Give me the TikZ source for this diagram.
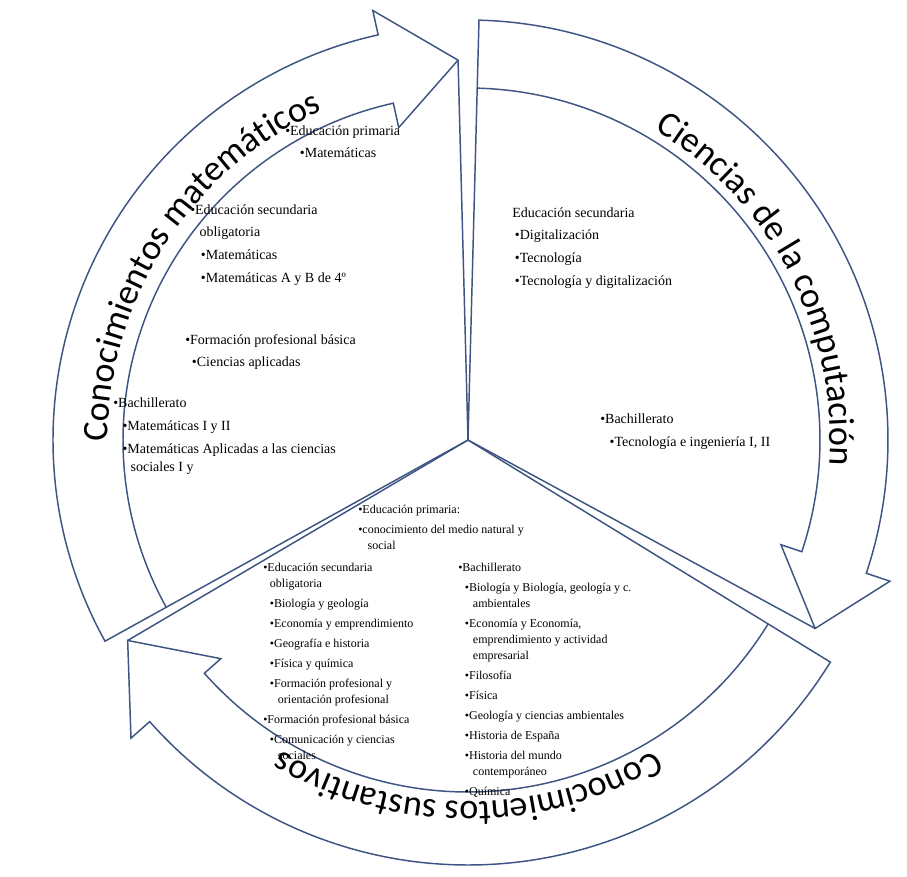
\documentclass[tikz,border=0pt]{standalone}
\usepackage{fontspec}
\setmainfont{Liberation Serif}
\newfontfamily\bandfont{Carlito}
\usetikzlibrary{positioning,decorations.text}
\definecolor{bandline}{RGB}{62,84,130}
\begin{document}
\begin{tikzpicture}[x=0.75pt,y=0.75pt,
  piece/.style={draw=bandline,fill=white,line width=1.1pt,line join=miter},
  block/.style={anchor=north west,inner sep=0pt,align=left,font=\fontsize{10.5}{17}\selectfont},
  smallblock/.style={anchor=north west,inner sep=0pt,align=left,font=\fontsize{9}{15}\selectfont},
  bandtext/.style={decorate,decoration={text along path,text align=center,
     text={|\bandfont\fontsize{27}{30}\selectfont|#1}}}]
\useasboundingbox (-468,-436) rectangle (439,440);
\coordinate (C) at (0,0);
% math piece
\draw[piece] (C) -- (209:345) -- (209:415) arc[start angle=209,end angle=102.5,radius=415]
  -- (102.5:440) -- (91.5:380) coordinate (tipm) -- (102.5:320) -- (102.5:345)
  arc[start angle=102.5,end angle=209,radius=345] -- cycle;
\draw[piece] (C) -- (tipm);
% computation piece
\draw[piece] (C) -- (88.5:372) -- (88.5:420) arc[start angle=88.5,end angle=-18.5,radius=420]
  -- (-18.5:445) -- (-28.5:395) coordinate (tipc) -- (-18.5:330) -- (-18.5:352)
  arc[start angle=-18.5,end angle=88.5,radius=352] -- cycle;
\draw[piece] (C) -- (tipc);
% substantive piece
\draw[piece] (C) -- (-31.5:372) -- (-31.5:425) arc[start angle=-31.5,end angle=-138.5,radius=425]
  -- (-138.5:450) -- (-149.5:395) coordinate (tips) -- (-138.5:330) -- (-138.5:352)
  arc[start angle=-138.5,end angle=-31.5,radius=352] -- cycle;
\draw[piece] (C) -- (tips);

% labels on the bands
\path[bandtext={Conocimientos matemáticos}] (197:360) arc[start angle=197,end angle=97,radius=360];
\path[bandtext={Ciencias de la computación}] (77.5:362) arc[start angle=77.5,end angle=-22.5,radius=362];
\path[bandtext={Conocimientos sustantivos}] (-40:362) arc[start angle=-40,end angle=-140,radius=362];

% mathematics
\node[block] (mprim) at (-183,315) {•Educación primaria\\\hspace*{11pt}•Matemáticas};
\node[block] (mseco) at (-278,236) {•Educación secundaria\\\hspace*{7pt}obligatoria\\
  \hspace*{8pt}•Matemáticas\\\hspace*{8pt}•Matemáticas A y B de 4º};
\node[block] (mfpb) at (-283,106) {•Formación profesional básica\\\hspace*{5pt}•Ciencias aplicadas};
\node[block] (mbach) at (-355,42) {•Bachillerato\\\hspace*{7pt}•Matemáticas I y II\\
  \hspace*{7pt}•Matemáticas Aplicadas a las ciencias\\[-3pt]\hspace*{13pt}sociales I y};
% computation
\node[block] (cseco) at (44,233) {Educación secundaria\\\hspace*{2pt}•Digitalización\\
  \hspace*{2pt}•Tecnología\\\hspace*{2pt}•Tecnología y digitalización};
\node[block] (cbach) at (132,26) {•Bachillerato\\\hspace*{7pt}•Tecnología e ingeniería I, II};
% substantive
\node[smallblock] (sprim) at (-110,-65) {•Educación primaria:\\•conocimiento del medio natural y\\[-3pt]
  \hspace*{7pt}social};
\node[smallblock] (sseco) at (-205,-123) {•Educación secundaria\\[-3pt]\hspace*{5pt}obligatoria\\
  \hspace*{5pt}•Biología y geología\\\hspace*{5pt}•Economía y emprendimiento\\
  \hspace*{5pt}•Geografía e historia\\\hspace*{5pt}•Física y química\\
  \hspace*{5pt}•Formación profesional y\\[-3pt]\hspace*{11pt}orientación profesional\\
  •Formación profesional básica\\\hspace*{5pt}•Comunicación y ciencias\\[-3pt]
  \hspace*{11pt}sociales};
\node[smallblock] (sbach) at (-10,-123) {•Bachillerato\\
  \hspace*{5pt}•Biología y Biología, geología y c.\\[-3pt]\hspace*{11pt}ambientales\\
  \hspace*{5pt}•Economía y Economía,\\[-3pt]\hspace*{11pt}emprendimiento y actividad\\[-3pt]
  \hspace*{11pt}empresarial\\\hspace*{5pt}•Filosofía\\\hspace*{5pt}•Física\\
  \hspace*{5pt}•Geología y ciencias ambientales\\\hspace*{5pt}•Historia de España\\
  \hspace*{5pt}•Historia del mundo\\[-3pt]\hspace*{11pt}contemporáneo\\\hspace*{5pt}•Química};
\end{tikzpicture}
\end{document}
